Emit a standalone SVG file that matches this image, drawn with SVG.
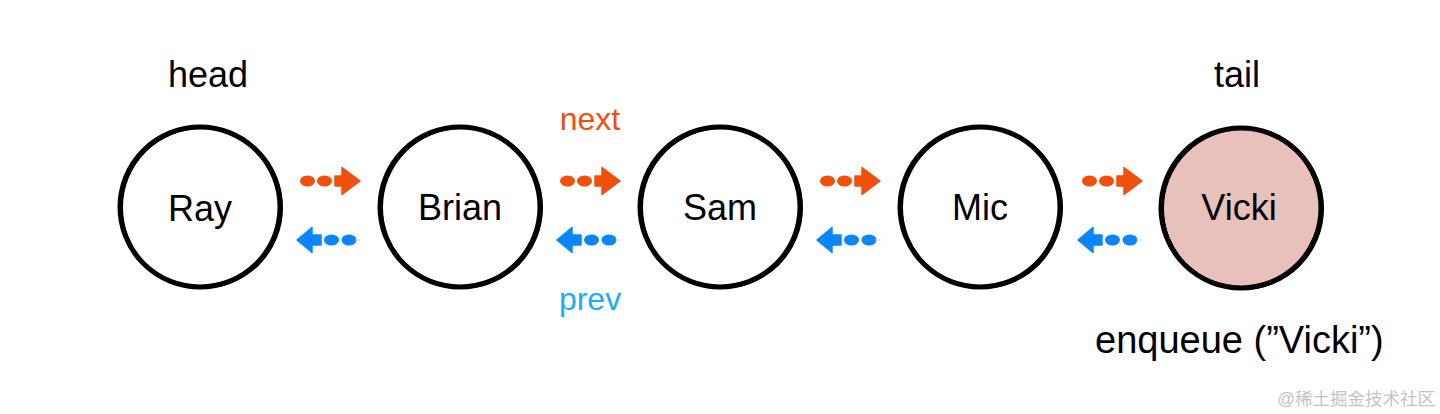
<svg xmlns="http://www.w3.org/2000/svg" xmlns:xlink="http://www.w3.org/1999/xlink" width="1440" height="414" viewBox="0 0 1440 414">
<style>
.t{font-family:"Liberation Sans",Arial,sans-serif;fill:#000;}
.lbl{font-size:36px;text-anchor:middle;}
.ring{fill:#fff;stroke:#000;stroke-width:5;}
.ring2{fill:none;stroke:#000;stroke-width:3;}
.nx{fill:#F0500C;}
.pv{fill:#0A86FA;}
</style>
<defs>
<g id="nextArrow">
<ellipse cx="7.5" cy="0" rx="7.5" ry="5.5"/>
<ellipse cx="24.5" cy="0" rx="7.5" ry="5.5"/>
<path d="M35,-5 L42,-5 L42,-13.5 L60,0 L42,13.5 L42,5 L35,5 Z" stroke="currentColor" stroke-width="1.5" stroke-linejoin="round"/>
</g>
<g id="prevArrow">
<path d="M1,0 L16,-12.5 L16,-5 L25,-5 L25,5 L16,5 L16,12.5 Z" stroke="currentColor" stroke-width="1.5" stroke-linejoin="round"/>
<ellipse cx="35.5" cy="0" rx="7.5" ry="5.5"/>
<ellipse cx="53" cy="0" rx="7.5" ry="5.5"/>
<rect x="59" y="-0.4" width="6" height="0.8" fill="#F4B0A0"/>
</g>
</defs>
<rect width="1440" height="414" fill="#fff"/>
<g id="connectors">
<use xlink:href="#nextArrow" href="#nextArrow" class="nx" style="color:#F0500C" x="300" y="181"/>
<use xlink:href="#nextArrow" href="#nextArrow" class="nx" style="color:#F0500C" x="560" y="181"/>
<use xlink:href="#nextArrow" href="#nextArrow" class="nx" style="color:#F0500C" x="820" y="181"/>
<use xlink:href="#nextArrow" href="#nextArrow" class="nx" style="color:#F0500C" x="1082" y="181"/>
<use xlink:href="#prevArrow" href="#prevArrow" class="pv" style="color:#0A86FA" x="296" y="240"/>
<use xlink:href="#prevArrow" href="#prevArrow" class="pv" style="color:#0A86FA" x="556" y="240"/>
<use xlink:href="#prevArrow" href="#prevArrow" class="pv" style="color:#0A86FA" x="816" y="240"/>
<use xlink:href="#prevArrow" href="#prevArrow" class="pv" style="color:#0A86FA" x="1077" y="240"/>
<text class="t" x="590" y="130" font-size="32" text-anchor="middle" style="fill:#F0500C">next</text>
<text class="t" x="590" y="310" font-size="32" text-anchor="middle" style="fill:#1AAEF5">prev</text>
</g>
<g id="node-ray">
<circle class="ring" cx="200" cy="207" r="80"/>
<circle class="ring2" cx="201.5" cy="207.5" r="80"/>
<text class="t lbl" x="200" y="221">Ray</text>
</g>
<g id="node-brian">
<circle class="ring" cx="460" cy="207" r="80"/>
<circle class="ring2" cx="461.5" cy="207.5" r="80"/>
<text class="t lbl" x="460" y="220">Brian</text>
</g>
<g id="node-sam">
<circle class="ring" cx="720" cy="207" r="80"/>
<circle class="ring2" cx="721.5" cy="207.5" r="80"/>
<text class="t lbl" x="720" y="220">Sam</text>
</g>
<g id="node-mic">
<circle class="ring" cx="980" cy="207" r="80"/>
<circle class="ring2" cx="981.5" cy="207.5" r="80"/>
<text class="t lbl" x="980" y="220">Mic</text>
</g>
<g id="node-vicki">
<circle class="ring" cx="1241" cy="208" r="80" style="fill:#E9C1BB"/>
<circle class="ring2" cx="1242.5" cy="208.5" r="80"/>
<text class="t lbl" x="1239" y="220">Vicki</text>
</g>
<g id="labels">
<text class="t lbl" x="208" y="87">head</text>
<text class="t lbl" x="1237" y="87">tail</text>
<text class="t" x="1095" y="353" font-size="38">enqueue (”Vicki”)</text>
<text x="1435" y="405" font-size="17.5" text-anchor="end" style="font-family:'Liberation Sans','Noto Sans CJK SC',sans-serif;fill:#C4C4C4">@稀土掘金技术社区</text>
</g>
</svg>
